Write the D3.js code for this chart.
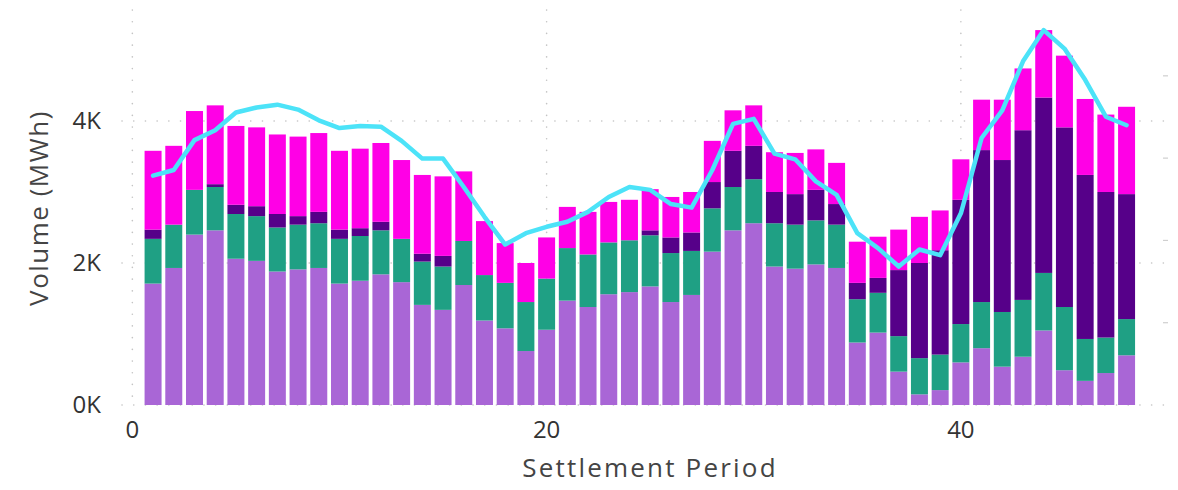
<!DOCTYPE html>
<html>
<head>
<meta charset="utf-8">
<script src="https://cdn.jsdelivr.net/npm/d3@7"></script>
<style>
  body { margin: 0; background: #fff; }
  text { font-family: "Open Sans", "Noto Sans", sans-serif; }
</style>
</head>
<body>
<div id="chart"></div>
<script>

// settlement periods
const periods = [1,2,3,4,5,6,7,8,9,10,11,12,13,14,15,16,17,18,19,20,21,22,23,24,
  25,26,27,28,29,30,31,32,33,34,35,36,37,38,39,40,41,42,43,44,45,46,47,48];

// stacked volumes, MWh (bottom to top)
const lilac = [1710,1930,2400,2460,2060,2030,1880,1910,1930,1710,1750,1840,1730,1410,1340,1690,
  1190,1080,760,1060,1470,1380,1560,1590,1670,1450,1550,2160,2460,2560,1950,1920,
  1980,1930,880,1020,470,150,210,600,800,540,680,1050,490,340,450,700];
const teal = [630,610,630,610,630,630,620,630,630,630,630,620,610,610,610,620,
  640,640,690,720,740,740,730,730,720,690,620,610,610,620,610,620,
  620,610,610,560,500,510,500,540,650,770,800,810,890,590,500,510];
const violet = [130,0,0,40,130,140,190,120,160,130,110,120,0,110,150,0,
  0,0,0,0,0,0,0,0,70,220,260,370,510,470,440,430,
  430,290,230,210,930,1340,1470,1750,2140,2140,2390,2470,2530,2310,2050,1760];
const magenta = [1110,1110,1110,1110,1110,1110,1120,1120,1110,1110,1120,1110,1110,1110,1120,980,
  760,560,550,580,580,600,570,570,580,570,570,580,570,570,560,580,
  570,580,580,580,570,650,560,570,710,850,870,950,1010,1070,1090,1230];

// line series, MWh
const lineValues = [3230,3310,3730,3870,4120,4190,4230,4160,4010,3900,3930,3920,3720,3470,3470,3070,
  2650,2260,2420,2510,2580,2720,2930,3070,3030,2830,2780,3310,3960,4030,3540,3460,
  3150,2960,2420,2210,1950,2190,2110,2700,3760,4150,4840,5280,5020,4580,4060,3940];

const keys = ["lilac", "teal", "violet", "magenta"];
const colors = ["#a966d6", "#1fa084", "#560089", "#ff00e6"];
const yTicks = [0, 2000, 4000];
const xTicks = [0, 20, 40];
const rightTicks = [1, 2, 3, 4];

const width = 1178, height = 490;
const plot = { left: 122, right: 1168, top: 10, bottom: 405 };

const rows = periods.map((p, i) => ({
  period: p, lilac: lilac[i], teal: teal[i], violet: violet[i], magenta: magenta[i]
}));

const svg = d3.select("#chart")
  .append("svg")
    .attr("width", width)
    .attr("height", height);

const xScale = d3.scaleLinear().domain([-0.5, 50]).range([plot.left, plot.right]);
const yScale = d3.scaleLinear().domain([0, 5563]).range([plot.bottom, plot.top]);
const y2Scale = d3.scaleLinear().domain([0, 4.8]).range([plot.bottom, plot.top]);

// dotted gridlines
svg.append("g")
  .selectAll("line")
  .data(yTicks)
  .enter()
  .append("line")
    .attr("x1", plot.left)
    .attr("x2", plot.right)
    .attr("y1", d => yScale(d))
    .attr("y2", d => yScale(d))
    .attr("stroke", "#c4c4c4")
    .attr("stroke-width", 1.6)
    .attr("stroke-linecap", "round")
    .attr("stroke-dasharray", "0.1,11.6");

svg.append("g")
  .selectAll("line")
  .data(xTicks)
  .enter()
  .append("line")
    .attr("x1", d => xScale(d))
    .attr("x2", d => xScale(d))
    .attr("y1", plot.top)
    .attr("y2", plot.bottom)
    .attr("stroke", "#c4c4c4")
    .attr("stroke-width", 1.6)
    .attr("stroke-linecap", "round")
    .attr("stroke-dasharray", "0.1,11.6");

// short marks of the secondary axis on the right
svg.append("g")
  .selectAll("line")
  .data(rightTicks)
  .enter()
  .append("line")
    .attr("x1", plot.right - 5)
    .attr("x2", plot.right)
    .attr("y1", d => y2Scale(d))
    .attr("y2", d => y2Scale(d))
    .attr("stroke", "#cfcfcf")
    .attr("stroke-width", 1.2);

// stacked bars
const stacked = d3.stack().keys(keys)(rows);
const barW = (xScale(1) - xScale(0)) * 0.82;

svg.append("g")
  .selectAll("g")
  .data(stacked)
  .enter()
  .append("g")
    .attr("fill", (d, i) => colors[i])
  .selectAll("rect")
  .data(d => d)
  .enter()
  .append("rect")
    .attr("x", d => xScale(d.data.period) - barW / 2)
    .attr("width", barW)
    .attr("y", d => yScale(d[1]))
    .attr("height", d => yScale(d[0]) - yScale(d[1]));

// line
const line = d3.line()
  .x((d, i) => xScale(periods[i]))
  .y(d => yScale(d));

svg.append("path")
  .datum(lineValues)
  .attr("fill", "none")
  .attr("stroke", "#4ce3f8")
  .attr("stroke-width", 4.5)
  .attr("stroke-linejoin", "round")
  .attr("stroke-linecap", "round")
  .attr("d", line);

// y axis labels
svg.append("g")
  .selectAll("text")
  .data(yTicks)
  .enter()
  .append("text")
    .attr("x", 101)
    .attr("y", d => yScale(d))
    .attr("dy", "0.35em")
    .attr("text-anchor", "end")
    .style("font-size", "24px")
    .style("fill", "#333")
    .text(d => d3.format(".0f")(d / 1000) + "K");

// x axis labels
svg.append("g")
  .selectAll("text")
  .data(xTicks)
  .enter()
  .append("text")
    .attr("x", d => xScale(d))
    .attr("y", 430)
    .attr("dy", "0.35em")
    .attr("text-anchor", "middle")
    .style("font-size", "24px")
    .style("fill", "#333")
    .text(d => d);

// axis titles
svg.append("text")
  .attr("transform", "translate(39,208) rotate(-90)")
  .attr("dy", "0.35em")
  .attr("text-anchor", "middle")
  .style("font-size", "26px")
  .style("letter-spacing", "1.5px")
  .style("fill", "#444")
  .text("Volume (MWh)");

svg.append("text")
  .attr("x", 650)
  .attr("y", 468)
  .attr("dy", "0.35em")
  .attr("text-anchor", "middle")
  .style("font-size", "26px")
  .style("letter-spacing", "2.2px")
  .style("fill", "#444")
  .text("Settlement Period");

</script>
</body>
</html>
